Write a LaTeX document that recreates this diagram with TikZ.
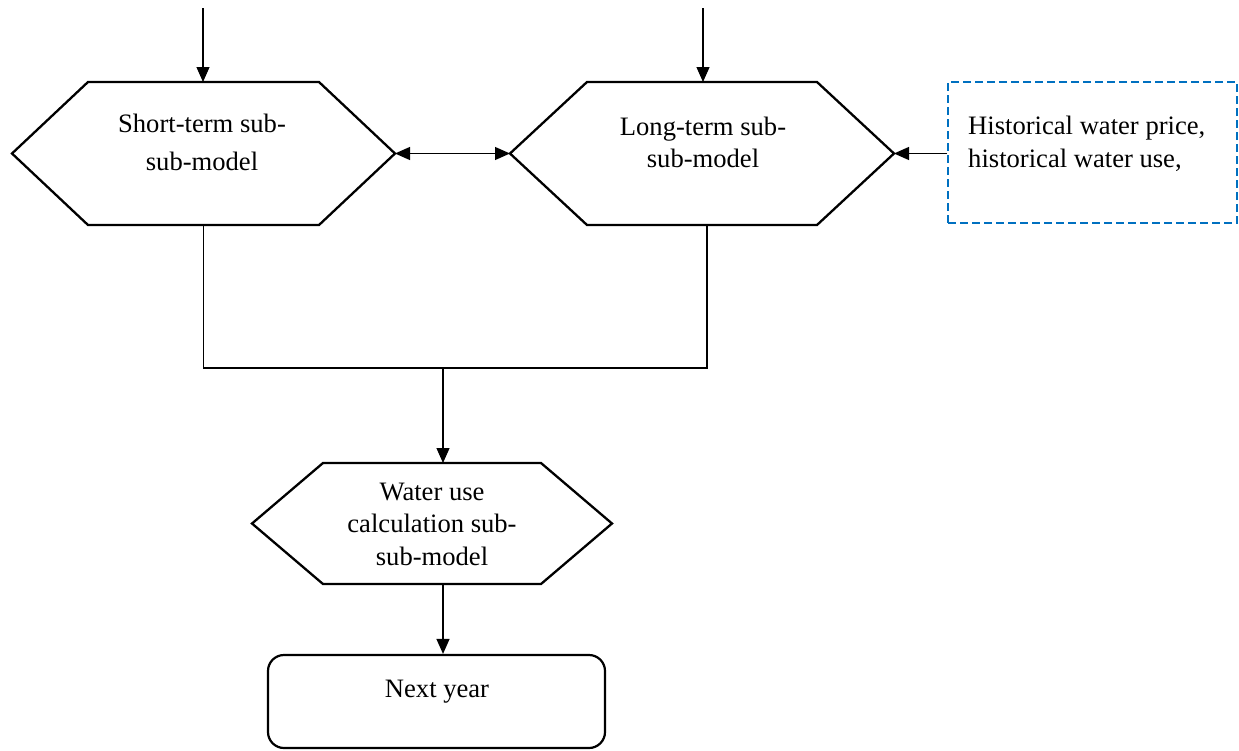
\documentclass[tikz,border=0pt]{standalone}
\usepackage{fontspec}
\setmainfont{Liberation Serif}
\usetikzlibrary{arrows.meta,calc}
\definecolor{dashblue}{RGB}{0,112,192}
% hexagon drawn on the border of a frame node: #1 = node name, #2 = slant inset
\newcommand\hexoutline[2]{%
  \draw[hexline] ($(#1.north west)+(#2,0)$) -- ($(#1.north east)+(-#2,0)$) -- (#1.east)
    -- ($(#1.south east)+(-#2,0)$) -- ($(#1.south west)+(#2,0)$) -- (#1.west) -- cycle;}
\begin{document}
\begin{tikzpicture}[x=1pt,y=-1pt,
  frame/.style={inner sep=0pt, outer sep=0pt, draw=none},
  hexline/.style={line width=2.3pt, line join=miter},
  txt/.style={inner sep=0pt, align=center, anchor=base},
  flow/.style={line width=1.2pt, -{Triangle[length=15pt,width=13pt]}},
  both/.style={line width=1.2pt, {Triangle[length=15pt,width=13pt]}-{Triangle[length=15pt,width=13pt]}},
  plain/.style={line width=1.2pt},
]
\useasboundingbox (0,0) rectangle (1239,750);

% shapes
\node[frame, minimum width=383pt, minimum height=143pt] (st) at (203.5,153.5) {};
\node[frame, minimum width=384pt, minimum height=143pt] (lt) at (702,153.5) {};
\node[frame, minimum width=360pt, minimum height=121pt] (wc) at (432,523.5) {};
\hexoutline{st}{76}
\hexoutline{lt}{77}
\hexoutline{wc}{71}
\node[draw=dashblue, dash pattern=on 8pt off 4pt, line width=2pt, inner sep=0pt,
      minimum width=289pt, minimum height=141pt] (hist) at (1092.5,152.5) {};
\node[draw, line width=2.2pt, rounded corners=16pt, inner sep=0pt,
      minimum width=337pt, minimum height=93pt] (nx) at (436.5,701.5) {};

% texts (anchored on the baseline of the last line)
\node[txt, font=\fontsize{26.6}{37.3}\selectfont] (sttext) at (202,170) {Short-term sub-\\sub-model};
\node[txt, font=\fontsize{26.6}{32}\selectfont] (lttext) at (703,167) {Long-term sub-\\sub-model};
\node[txt, font=\fontsize{26.6}{32.5}\selectfont] (wctext) at (432,565) {Water use\\calculation sub-\\sub-model};
\node[txt, align=left, anchor=base west, font=\fontsize{26.6}{33}\selectfont] (histtext) at (968,167)
  {Historical water price,\\historical water use,};
\node[txt, font=\fontsize{26.6}{33}\selectfont] (nxtext) at (437,697) {Next year};

% connectors
\coordinate (in1) at (203,8);
\coordinate (in2) at (703,8);
\coordinate (join) at (443,368);
\draw[flow] (in1) -- (in1 |- st.north);
\draw[flow] (in2) -- (in2 |- lt.north);
\draw[both] (st.east) -- (lt.west);
\draw[flow] (hist.west |- lt.east) -- (lt.east);
\draw[plain] (st.south) |- (join);
\draw[plain] ([xshift=5pt]lt.south) |- (join);
\draw[flow] (join) -- (join |- wc.north);
\draw[flow] (join |- wc.south) -- (join |- nx.north);
\end{tikzpicture}
\end{document}
